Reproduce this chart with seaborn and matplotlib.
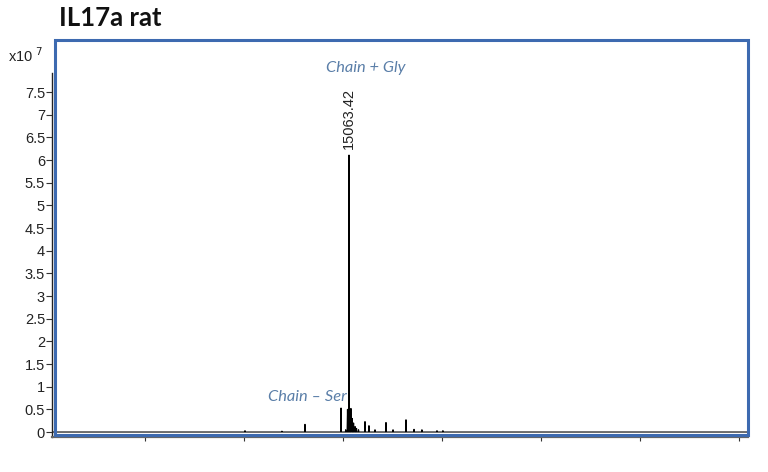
import numpy as np
import pandas as pd
import matplotlib
matplotlib.use("Agg")
import matplotlib.pyplot as plt
import seaborn as sns
from matplotlib.patches import Rectangle

# ---- data (deconvoluted masses, Da ; intensities, x10^7 counts) ----
peak_mass = [14013, 14386, 14619, 14983, 15030, 15048, 15063.42, 15083, 15095,
             15110, 15125, 15140, 15160, 15225, 15265, 15326, 15437, 15508,
             15639, 15720, 15800, 15952, 16012]
peak_height = [0.03, 0.02, 0.17, 0.53, 0.05, 0.50, 6.11, 0.52, 0.30,
               0.20, 0.12, 0.08, 0.05, 0.23, 0.14, 0.05, 0.21, 0.05,
               0.27, 0.06, 0.05, 0.03, 0.03]
y_ticks = [0, 0.5, 1, 1.5, 2, 2.5, 3, 3.5, 4, 4.5, 5, 5.5, 6, 6.5, 7, 7.5]
x_ticks = [13000, 14000, 15000, 16000, 17000, 18000, 19000]
title = "IL17a rat"
peak_label = "15063.42"
annot_top = "Chain + Gly"
annot_low = "Chain \u2013 Ser"

# ---- build stick profile ----
xlim = (12064, 19093)
w = 4.0
xs, ys = [xlim[0]], [0.0]
for m, h in sorted(zip(peak_mass, peak_height)):
    xs += [m - w, m, m + w]
    ys += [0.0, h, 0.0]
xs.append(xlim[1]); ys.append(0.0)
df = pd.DataFrame({"mass": xs, "intensity": ys})

sns.set_style("ticks")
plt.rcParams["font.family"] = ["Liberation Sans", "DejaVu Sans"]

fig = plt.figure(figsize=(7.68, 4.72), dpi=100)
ax = fig.add_axes([52/768, 1-437/472, (748-52)/768, (437-40)/472])
sns.lineplot(data=df, x="mass", y="intensity", ax=ax, color="black",
             linewidth=0.8, estimator=None, sort=False)

ax.set_xlim(*xlim)
ax.set_ylim(-0.110, 8.648)
ax.set_yticks(y_ticks)
ax.set_yticklabels([f"{v:g}" for v in y_ticks], fontsize=10.5, color="#222222")
ax.set_xticks(x_ticks)
ax.set_xticklabels([])
ax.set_xlabel(""); ax.set_ylabel("")
ax.tick_params(axis="y", length=4, width=0.8, pad=1, color="#333333")
ax.tick_params(axis="x", length=3, width=0.8, color="#333333")
for s in ["top", "right"]:
    ax.spines[s].set_visible(False)
ax.spines["left"].set_bounds(-0.110, 7.92)
ax.spines["left"].set_color("#222222")
ax.spines["left"].set_linewidth(1.0)
ax.spines["bottom"].set_color("#666666")
ax.spines["bottom"].set_linewidth(1.6)

# blue frame
fig.patches.append(Rectangle((55/768, 1-434.5/472), (748-55)/768, (434.5-40)/472,
                             transform=fig.transFigure, fill=False,
                             edgecolor="#3d6ab0", linewidth=2.2, zorder=5))

# texts
fig.text(59/768, 1-26/472, title, fontsize=18.5, fontweight="bold",
         family=["Lato", "DejaVu Sans"], color="#111111", ha="left", va="baseline")
fig.text(8/768, 1-62/472, r"x10$^{\ 7}$", fontsize=10.5, color="#222222",
         ha="left", va="baseline")
ax.annotate(peak_label, xy=(15063.42, 6.11), xytext=(0, 4), textcoords="offset points",
            rotation=90, ha="center", va="bottom", fontsize=10.5, color="#222222")
fig.text(366/768, 1-68/472, annot_top, fontsize=11.8, style="italic",
         family=["Lato", "DejaVu Sans"], color="#5a7ea8", ha="center", va="center")
fig.text(307/768, 1-397/472, annot_low, fontsize=11.8, style="italic",
         family=["Lato", "DejaVu Sans"], color="#5a7ea8", ha="center", va="center")

fig.savefig("out.png", dpi=100)
